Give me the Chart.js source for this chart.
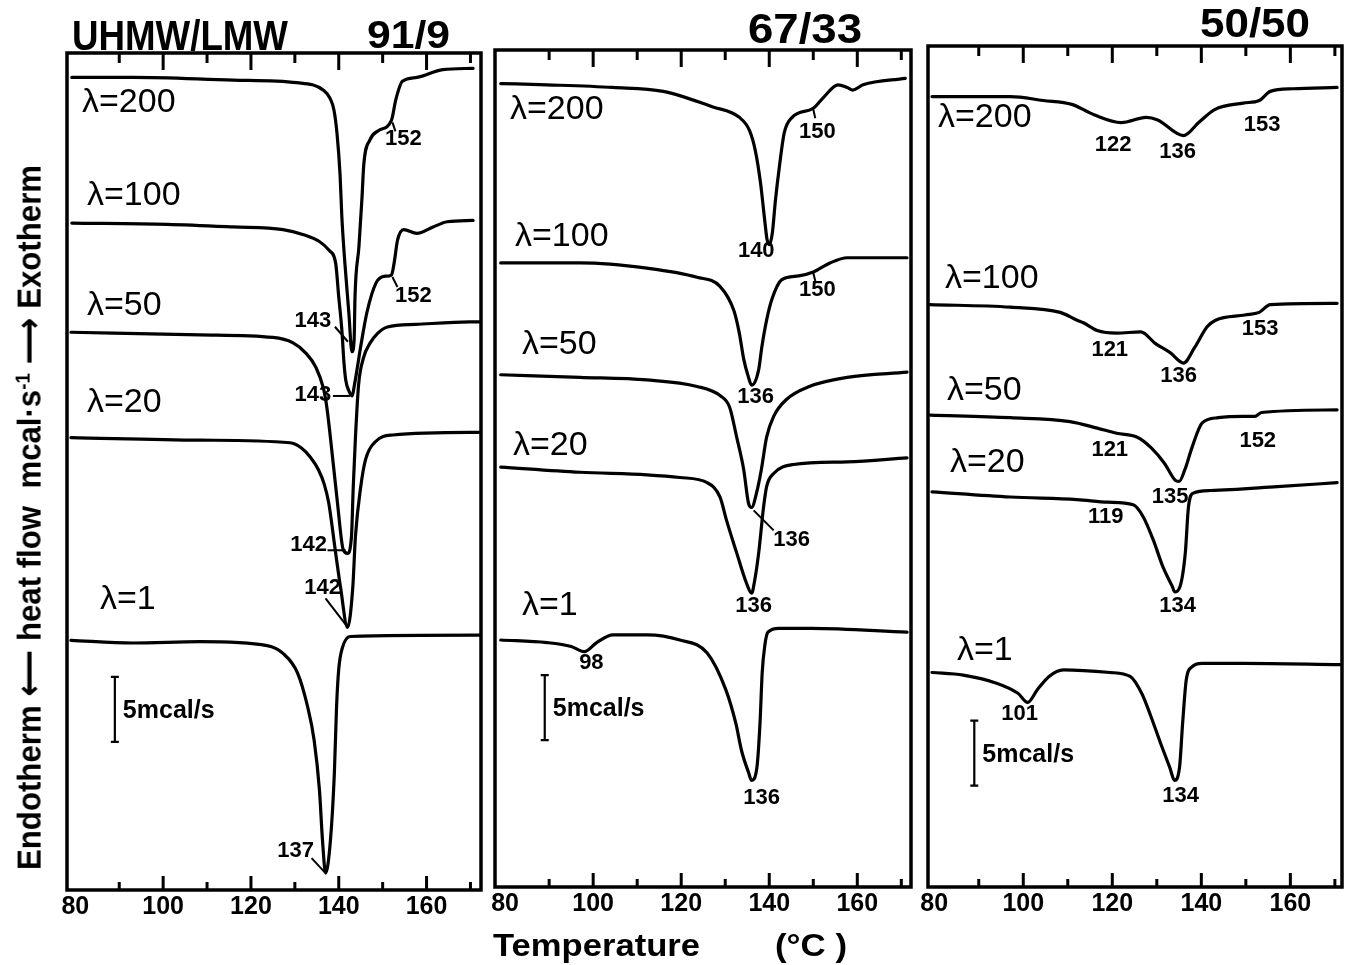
<!DOCTYPE html>
<html>
<head>
<meta charset="utf-8">
<title>DSC melting endotherms, UHMW/LMW blends</title>
<script src="https://cdn.jsdelivr.net/npm/chart.js@4.4.1/dist/chart.umd.min.js"></script>
<style>
  html, body { margin: 0; padding: 0; background: #fff; }
  #fig { position: relative; width: 1347px; height: 965px; overflow: hidden; background: #fff; }
  #fig canvas { position: absolute; left: 0; top: 0; }
  .txt { position: absolute; white-space: nowrap; line-height: 1; color: #000;
         font-family: "Liberation Sans", Arial, sans-serif; font-weight: bold; transform-origin: 0 0; }
  .txt sup { font-size: 0.6em; line-height: 0; vertical-align: 0.55em; }
  .txt .arr { font-family: "DejaVu Sans", sans-serif; font-weight: bold; font-size: 1.05em; }
</style>
</head>
<body>
<div id="fig">
  <canvas id="p91" width="1347" height="965"></canvas>
  <canvas id="p67" width="1347" height="965"></canvas>
  <canvas id="p50" width="1347" height="965"></canvas>

  <div class="txt fit" data-w="216" style="left:72px;top:14.5px;font-size:42px">UHMW/LMW</div>
  <div class="txt fit" data-w="83" style="left:367px;top:15px;font-size:39px">91/9</div>
  <div class="txt fit" data-w="114" style="left:748px;top:7.5px;font-size:42px">67/33</div>
  <div class="txt fit" data-w="110" style="left:1200px;top:3px;font-size:40px">50/50</div>
  <div class="txt fit" data-w="207" style="left:493px;top:929px;font-size:32px">Temperature</div>
  <div class="txt fit" data-w="72" style="left:775px;top:929px;font-size:32px">(°C )</div>
  <div class="txt" id="ytitle" style="left:0;top:0;font-size:34px">Endotherm <span class="arr">⟵</span> heat flow&nbsp; mcal·s<sup>-1</sup> <span class="arr">⟶</span> Exotherm</div>
</div>

<script>
// ---- temperature axis ----
const xTickTemps  = [80, 90, 100, 110, 120, 130, 140, 150, 160, 170];
const xMarkTemps  = [90, 100, 110, 120, 130, 140, 150, 160, 170];
const xLabelTemps = [80, 100, 120, 140, 160];
const drawRatios  = ['λ=200', 'λ=100', 'λ=50', 'λ=20', 'λ=1'];

// ---- UHMW/LMW 91/9 : temperature (°C) and heat flow (mcal/s, offset traces) ----
const t91_200 = [79.2, 93.1, 115.9, 130.5, 136.6, 138.0, 138.9, 139.6, 140.3, 140.7, 141.4, 142.3, 143.0, 143.5, 143.7, 144.6, 145.3, 145.7, 147.1, 149.0, 152.0, 153.0, 154.5, 157.8, 163.7, 170.6];
const q91_200 = [62.5, 62.5, 62.3, 62.1, 61.5, 60.9, 60.0, 58.2, 55.0, 51.8, 48.2, 44.4, 41.4, 42.3, 45.6, 49.5, 53.3, 55.8, 57.7, 58.4, 59.2, 60.8, 62.2, 62.5, 63.1, 63.2];
const t91_100 = [79.2, 100.9, 115.9, 127.3, 132.0, 135.5, 137.8, 139.3, 140.0, 140.7, 141.2, 141.6, 142.3, 143.0, 143.7, 145.0, 146.4, 148.5, 150.3, 152.0, 152.6, 153.4, 154.8, 157.8, 161.5, 164.7, 170.6];
const q91_100 = [51.3, 51.2, 51.0, 50.8, 50.4, 49.9, 49.2, 48.2, 45.6, 43.1, 40.5, 39.2, 38.4, 38.0, 39.1, 41.8, 44.4, 46.7, 47.2, 47.3, 48.2, 50.0, 50.8, 50.5, 51.0, 51.4, 51.5];
const t91_50  = [79.0, 108.4, 125.0, 129.5, 132.5, 134.8, 136.5, 137.3, 138.1, 139.7, 141.0, 142.0, 142.9, 143.3, 143.8, 144.5, 145.6, 147.2, 148.8, 151.1, 157.5, 169.9, 172.2];
const q91_50  = [42.9, 42.7, 42.5, 42.1, 41.3, 40.2, 38.6, 37.1, 34.8, 29.8, 26.2, 25.9, 27.2, 31.0, 34.8, 38.8, 40.9, 42.1, 42.8, 43.3, 43.5, 43.7, 43.7];
const t91_20  = [79.0, 108.4, 128.9, 131.5, 133.5, 135.4, 136.7, 137.7, 139.3, 140.4, 142.0, 143.2, 143.8, 145.0, 146.1, 148.4, 152.3, 169.9, 172.2];
const q91_20  = [34.8, 34.6, 34.4, 34.0, 33.3, 32.3, 31.2, 29.8, 25.9, 23.3, 20.2, 23.3, 27.2, 31.0, 33.1, 34.5, 35.0, 35.2, 35.2];
const t91_1   = [79.0, 93.1, 108.4, 123.7, 127.3, 130.6, 132.9, 134.4, 135.6, 136.3, 137.0, 138.1, 139.0, 139.5, 140.0, 140.8, 142.6, 172.2];
const q91_1   = [19.2, 19.0, 19.1, 18.8, 18.2, 16.7, 14.1, 11.5, 7.7, 3.8, 1.3, 3.8, 9.0, 14.1, 17.0, 18.6, 19.5, 19.6];
// labelled transitions: [trace index, temperature]
const peaks91 = [[0, 143], [0, 152], [1, 143], [1, 152], [2, 142], [3, 142], [4, 137]];

// ---- 67/33 ----
const t67_200 = [79.0, 89.5, 104.5, 115.9, 127.2, 133.2, 135.5, 136.8, 138.0, 138.9, 139.5, 140.0, 140.7, 141.4, 142.3, 143.4, 145.2, 150.0, 152.5, 155.6, 157.7, 159.0, 161.3, 170.9];
const q67_200 = [61.8, 61.7, 61.5, 61.2, 60.0, 59.2, 58.2, 56.7, 54.2, 51.5, 49.8, 49.4, 50.3, 52.8, 55.4, 58.0, 59.2, 59.9, 60.8, 61.7, 61.5, 61.3, 61.7, 62.2];
const t67_100 = [79.0, 97.0, 112.2, 123.6, 128.8, 132.0, 133.2, 134.2, 135.2, 136.0, 137.6, 138.3, 139.4, 140.6, 142.8, 146.7, 150.0, 153.8, 157.7, 171.3];
const q67_100 = [48.0, 48.0, 47.6, 46.9, 46.2, 44.3, 42.6, 40.6, 39.3, 38.6, 39.8, 41.5, 43.6, 45.2, 46.7, 47.0, 47.3, 48.0, 48.4, 48.4];
const t67_50  = [79.0, 97.0, 112.2, 123.6, 128.8, 131.0, 132.6, 134.2, 135.3, 136.0, 137.1, 138.2, 139.4, 141.0, 143.9, 149.1, 157.7, 171.3];
const q67_50  = [39.4, 39.2, 39.0, 38.5, 37.8, 36.9, 34.6, 32.1, 29.5, 29.2, 30.3, 32.1, 34.6, 36.2, 37.5, 38.5, 39.2, 39.6];
const t67_20  = [79.0, 97.0, 112.2, 119.7, 125.9, 128.8, 130.3, 132.6, 134.8, 136.0, 136.7, 137.6, 138.7, 139.4, 141.0, 145.5, 157.7, 171.3];
const q67_20  = [32.3, 31.9, 31.7, 31.5, 31.1, 30.0, 28.2, 25.7, 23.4, 22.6, 23.6, 25.7, 29.2, 30.8, 31.8, 32.5, 32.7, 33.0];
const t67_1   = [79.0, 89.5, 95.0, 98.0, 100.8, 104.5, 112.2, 119.7, 125.9, 130.1, 132.4, 133.7, 135.3, 136.0, 137.2, 137.9, 138.4, 139.0, 139.7, 142.2, 149.6, 171.3];
const q67_1   = [19.0, 18.8, 18.5, 18.1, 18.8, 19.4, 19.4, 19.0, 18.0, 15.2, 12.6, 10.5, 8.8, 8.2, 9.2, 12.6, 16.5, 18.6, 19.6, 19.9, 19.9, 19.6];
const peaks67 = [[0, 140], [0, 150], [1, 136], [1, 150], [2, 136], [3, 136], [4, 98], [4, 136]];

// ---- 50/50 ----
const t50_200 = [79.5, 97.1, 104.5, 110.9, 115.9, 122.0, 127.6, 130.2, 136.0, 139.4, 143.0, 149.4, 153.0, 155.5, 160.6, 170.5];
const q50_200 = [60.8, 60.8, 60.5, 60.2, 59.4, 58.8, 59.2, 59.0, 57.8, 58.8, 59.8, 60.3, 60.5, 61.2, 61.4, 61.5];
const t50_100 = [79.0, 97.1, 108.3, 112.1, 113.5, 116.6, 121.0, 126.4, 129.7, 133.0, 136.0, 138.5, 141.3, 143.2, 149.8, 153.0, 155.5, 170.5];
const q50_100 = [44.8, 44.6, 44.2, 43.6, 43.4, 42.8, 42.6, 42.7, 41.8, 41.1, 40.3, 41.5, 43.1, 43.6, 44.0, 44.2, 44.8, 44.9];
const t50_50  = [79.1, 97.1, 110.5, 116.6, 121.0, 125.6, 128.7, 131.7, 134.1, 135.0, 136.3, 137.9, 140.2, 143.8, 149.4, 152.0, 153.5, 170.5];
const q50_50  = [36.3, 36.1, 35.8, 35.3, 34.9, 34.6, 33.8, 32.6, 31.3, 31.2, 32.1, 33.8, 35.7, 36.1, 36.2, 36.2, 36.5, 36.7];
const t50_20  = [79.5, 97.1, 112.1, 119.0, 124.7, 126.9, 129.2, 131.4, 133.5, 134.0, 135.2, 136.4, 137.1, 138.2, 142.0, 157.1, 170.5];
const q50_20  = [30.4, 30.0, 29.8, 29.6, 29.4, 28.5, 26.7, 24.6, 23.1, 22.7, 23.1, 25.7, 29.2, 30.3, 30.5, 30.8, 31.1];
const t50_1   = [79.5, 86.5, 93.8, 98.8, 101.0, 103.2, 105.8, 109.0, 119.5, 124.0, 126.6, 128.7, 130.8, 132.9, 134.0, 135.1, 135.8, 136.6, 137.8, 140.2, 149.4, 171.2];
const q50_1   = [16.5, 16.3, 15.7, 14.9, 14.2, 15.2, 16.2, 16.7, 16.5, 16.2, 14.9, 13.1, 11.1, 9.2, 8.2, 9.2, 12.6, 15.9, 16.9, 17.2, 17.2, 17.1];
const peaks50 = [[0, 122], [0, 136], [0, 153], [1, 121], [1, 136], [1, 153], [2, 121], [2, 135], [2, 152], [3, 119], [3, 134], [4, 101], [4, 134]];

const SCALE_BAR = 5; // mcal/s

// ---- layout and styling ----
const INK = '#000';
const FONT = '"Liberation Sans", Arial, sans-serif';

const layouts = {
  p91: {
    t: [78.1, 172.4], qMax: 64.38,
    pad: { left: 67, right: 866, top: 53, bottom: 35 },
    names: [[82, 103], [87, 196], [87, 306], [87, 403], [100, 600]],
    bar: { t: 89, q0: 11.4 },
    // [text dx, text dy, leader x1, y1, x2, y2] relative to the labelled point
    peakOffsets: [[-39, -31, -17, -25, -4, -10], [12, 19, 1, 2, 4, 11], [-39, -1, -19, 0, -2, 0],
                  [22, 21, 1, 2, 6, 12], [-39, -8, -20, -3, -2, -3], [-25, -39, -22, -29, -2, -3],
                  [-30, -22, -14, -15, -1, -1]]
  },
  p67: {
    t: [77.7, 172.2], qMax: 64.38,
    pad: { left: 495, right: 436, top: 50, bottom: 38 },
    names: [[510, 110], [515, 237], [522, 345], [513, 446], [522, 606]],
    bar: { t: 89, q0: 11.3 },
    peakOffsets: [[-13, 6], [4, 24, 0, 1, 2, 10], [4, 12], [4, 18, 0, 1, 2, 9],
                  [40, 33, 2, 3, 22, 23], [2, 13], [7, 11], [10, 18]]
  },
  p50: {
    t: [78.6, 171.6], qMax: 64.69,
    pad: { left: 928, right: 5, top: 46, bottom: 38 },
    names: [[938, 118], [945, 279], [947, 391], [950, 463], [957, 651]],
    bar: { t: 89, q0: 7.8 },
    peakOffsets: [[-8, 22], [-6, 16], [3, 24], [-7, 17], [-5, 13], [1, 17], [-7, 17], [-9, 16],
                  [3, 25], [-2, 15], [3, 14], [-8, 12], [6, 16]]
  }
};

// frame, inward ticks, scale bar, trace names and transition labels
function panelDecor(lay, peaks) {
  return {
    id: 'panelDecor',
    afterDatasetsDraw(chart) {
      const { ctx, chartArea: a } = chart;
      const x = chart.scales.x, y = chart.scales.y;
      ctx.save();
      ctx.strokeStyle = INK;
      ctx.fillStyle = INK;

      ctx.lineWidth = 3.5;
      ctx.strokeRect(a.left, a.top, a.right - a.left, a.bottom - a.top);

      ctx.lineWidth = 3;
      ctx.beginPath();
      xMarkTemps.forEach(t => {
        const px = x.getPixelForValue(t);
        const major = xLabelTemps.includes(t);
        ctx.moveTo(px, a.top); ctx.lineTo(px, a.top + (major ? 17 : 10));
        ctx.moveTo(px, a.bottom); ctx.lineTo(px, a.bottom - (major ? 14 : 8));
      });
      ctx.stroke();

      // 5 mcal/s bar
      const bx = x.getPixelForValue(lay.bar.t);
      const by0 = y.getPixelForValue(lay.bar.q0);
      const by1 = y.getPixelForValue(lay.bar.q0 + SCALE_BAR);
      ctx.lineWidth = 2.2;
      ctx.beginPath();
      ctx.moveTo(bx, by0); ctx.lineTo(bx, by1);
      ctx.moveTo(bx - 4, by0); ctx.lineTo(bx + 4, by0);
      ctx.moveTo(bx - 4, by1); ctx.lineTo(bx + 4, by1);
      ctx.stroke();
      ctx.font = 'bold 25px ' + FONT;
      ctx.textAlign = 'left';
      ctx.textBaseline = 'middle';
      ctx.fillText(SCALE_BAR + 'mcal/s', bx + 8, (by0 + by1) / 2 + 2);

      // draw-ratio names
      ctx.font = '34px ' + FONT;
      drawRatios.forEach((name, i) => ctx.fillText(name, lay.names[i][0], lay.names[i][1]));

      // transition temperatures
      ctx.font = 'bold 22px ' + FONT;
      ctx.textAlign = 'center';
      ctx.lineWidth = 2;
      peaks.forEach(([ds, temp], i) => {
        const pt = chart.data.datasets[ds].data.find(d => d.x === temp);
        if (!pt) return;
        const px = x.getPixelForValue(pt.x), py = y.getPixelForValue(pt.y);
        const o = lay.peakOffsets[i];
        ctx.fillText(String(temp), px + o[0], py + o[1]);
        if (o.length > 2) {
          ctx.beginPath();
          ctx.moveTo(px + o[2], py + o[3]);
          ctx.lineTo(px + o[4], py + o[5]);
          ctx.stroke();
        }
      });
      ctx.restore();
    }
  };
}

function buildPanel(id, traces, peaks) {
  const lay = layouts[id];
  const datasets = traces.map(([t, q]) => ({
    data: t.map((v, i) => ({ x: v, y: q[i] })),
    borderColor: INK,
    borderWidth: 3.2,
    pointRadius: 0,
    fill: false,
    cubicInterpolationMode: 'monotone',
    borderJoinStyle: 'round',
    borderCapStyle: 'round'
  }));
  return new Chart(document.getElementById(id), {
    type: 'line',
    data: { datasets },
    options: {
      responsive: false,
      animation: false,
      devicePixelRatio: 1,
      layout: { padding: lay.pad },
      plugins: { legend: { display: false }, tooltip: { enabled: false } },
      scales: {
        x: {
          type: 'linear',
          bounds: 'data',
          min: lay.t[0],
          max: lay.t[1],
          afterBuildTicks: s => { s.ticks = xTickTemps.map(v => ({ value: v })); },
          afterFit: s => { s.height = 40; },
          grid: { display: false, drawTicks: false },
          border: { display: false },
          ticks: {
            autoSkip: false, maxRotation: 0, minRotation: 0, padding: 2, color: INK,
            font: { family: FONT, size: 25, weight: 'bold' },
            callback: v => (xLabelTemps.includes(v) ? String(v) : '')
          }
        },
        y: { display: false, min: 0, max: lay.qMax }
      }
    },
    plugins: [panelDecor(lay, peaks)]
  });
}

buildPanel('p91', [[t91_200, q91_200], [t91_100, q91_100], [t91_50, q91_50], [t91_20, q91_20], [t91_1, q91_1]], peaks91);
buildPanel('p67', [[t67_200, q67_200], [t67_100, q67_100], [t67_50, q67_50], [t67_20, q67_20], [t67_1, q67_1]], peaks67);
buildPanel('p50', [[t50_200, q50_200], [t50_100, q50_100], [t50_50, q50_50], [t50_20, q50_20], [t50_1, q50_1]], peaks50);

// stretch headings to their set widths
document.querySelectorAll('.fit').forEach(el => {
  const w = el.getBoundingClientRect().width;
  el.style.transform = 'scaleX(' + (parseFloat(el.dataset.w) / w) + ')';
});
const yt = document.getElementById('ytitle');
const yw = yt.getBoundingClientRect().width;
yt.style.transform = 'translate(10.6px, 870px) rotate(-90deg) scaleX(' + (705 / yw) + ')';
</script>
</body>
</html>
